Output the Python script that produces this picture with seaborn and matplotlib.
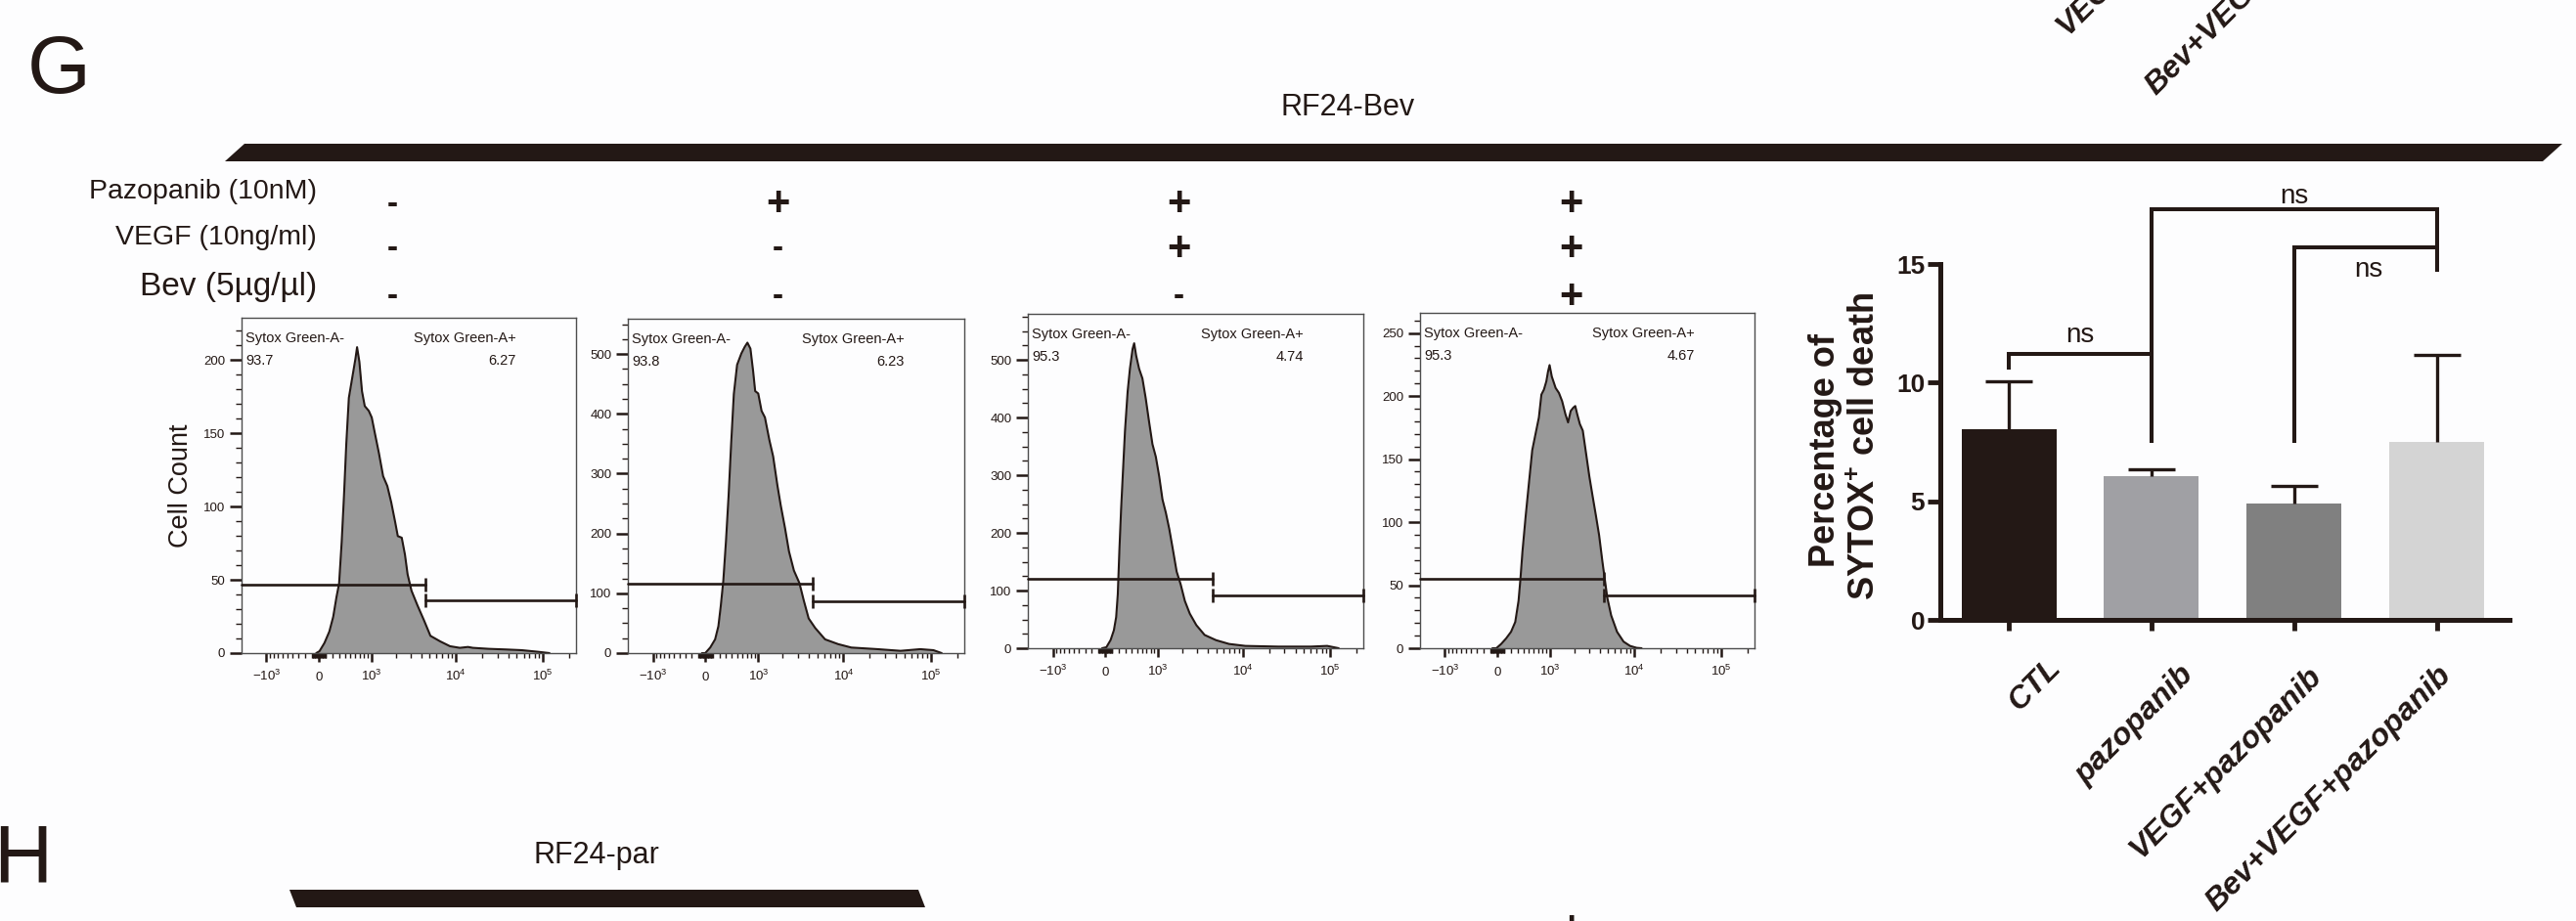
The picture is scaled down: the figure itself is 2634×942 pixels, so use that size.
import numpy as np
import pandas as pd
import matplotlib
matplotlib.use("Agg")
import matplotlib.pyplot as plt
import matplotlib.transforms as mtransforms
from matplotlib import font_manager
from matplotlib.patches import Polygon
import seaborn as sns

# ---------------- data ----------------
treatments = ["Pazopanib (10nM)", "VEGF (10ng/ml)", "Bev (5µg/µl)"]
treat_signs = [["-", "+", "+", "+"],
               ["-", "-", "+", "+"],
               ["-", "-", "-", "+"]]

# Sytox Green-A histograms (fluorescence, cell count)
h1_x = [-37, 9, 79, 150, 208, 258, 300, 343, 382, 423, 470, 534, 602, 637, 689, 751, 820, 930,
        1016, 1118, 1255, 1413, 1589, 1772, 1973, 2121, 2361, 2576, 2765, 3071, 3602, 4279, 5087,
        6597, 8549, 11075, 13750, 15649, 24060, 37022, 57031, 87740, 118500]
h1_y = [0, 1.3, 6.9, 14.7, 24.8, 38.2, 47.5, 76.1, 107.4, 143.1, 174.3, 187.7, 201.1, 208.9, 198.9,
        178.8, 168.7, 165.4, 160.9, 149.8, 136.4, 120.8, 114.1, 102.9, 89.5, 79.9, 78.8, 67.2, 53.8,
        42.6, 32.6, 22.5, 11.8, 8.0, 4.7, 3.6, 4.2, 3.6, 2.9, 2.5, 2.0, 0.9, 0]
h2_x = [-51, -5, 65, 135, 183, 218, 258, 300, 343, 387, 434, 495, 580, 652, 713, 786, 856, 911, 999,
        1102, 1215, 1379, 1531, 1725, 1888, 2121, 2361, 2695, 3124, 3499, 3991, 4745, 6158, 8699,
        12289, 24503, 44780, 75168, 106358, 131931]
h2_y = [0, 0, 9.3, 23, 45, 78, 121, 187, 263, 351, 433, 482, 501, 512, 519, 509, 471, 438, 434, 405,
        394, 356, 329, 280, 247, 209, 170, 138, 117, 88.5, 58, 42, 23, 15, 9.3, 6.6, 3.8, 6.6, 4.9, 0]
h3_x = [-46, 14, 74, 121, 154, 178, 203, 228, 258, 289, 332, 371, 417, 446, 483, 540, 609, 681, 759,
        847, 940, 1040, 1145, 1262, 1390, 1531, 1708, 1906, 2139, 2444, 2916, 3635, 4915, 6950, 10700,
        25359, 60027, 92341, 124922]
h3_y = [0, 1.7, 14.2, 31.2, 53.9, 93.6, 172.9, 241, 309, 377, 445, 485, 519, 529, 507.5, 485, 468,
        434, 394, 354, 332, 298, 258, 235, 207, 173, 133, 111, 82, 60, 40, 23, 14, 7.4, 4, 2.8, 2.8, 4, 0]
h4_x = [-69, -14, 55, 126, 198, 263, 316, 348, 382, 440, 501, 567, 637, 713, 774, 838, 903, 951, 997,
        1065, 1192, 1310, 1434, 1574, 1694, 1822, 1956, 2063, 2177, 2339, 2531, 2765, 3019, 3294, 3602,
        3922, 4279, 4548, 4872, 5406, 6318, 7511, 8929, 10609, 12080]
h4_y = [0, 0, 3.4, 7.8, 13, 20.8, 37.6, 55.3, 76.6, 105.1, 131.1, 157.1, 170, 183, 201.2, 205.1, 211.6,
        219.4, 224.6, 215.5, 206.4, 202.5, 196, 185.6, 179.1, 188.2, 190.8, 192.1, 185.6, 177.8, 172.6,
        154.5, 136.3, 120.7, 105.1, 89.6, 68.8, 55.3, 40.2, 26, 13, 5.2, 1.8, 0.3, 0]
hist_x = [h1_x, h2_x, h3_x, h4_x]
hist_y = [h1_y, h2_y, h3_y, h4_y]

gate_split = 4460
gate_neg_y = [47, 116, 121, 55]
gate_pos_y = [36, 87, 92, 42]
pct_neg = ["93.7", "93.8", "95.3", "95.3"]
pct_pos = ["6.27", "6.23", "4.74", "4.67"]

hist_ymax = [229, 559, 580, 266]
hist_ymajor = [50, 100, 100, 50]
hist_yminor = [10, 25, 25, 10]
x_lo, x_hi = -2027, 239000
x_major = [-1000, 0, 1000, 10000, 100000]
x_major_lab = ["$-10^{3}$", "0", "$10^{3}$", "$10^{4}$", "$10^{5}$"]

groups = ["CTL", "pazopanib", "VEGF+pazopanib", "Bev+VEGF+pazopanib"]
death_mean = [8.02, 6.05, 4.90, 7.51]
death_sd = [2.04, 0.28, 0.74, 3.64]
bar_colors = ["#231815", "#a0a0a4", "#808080", "#d4d4d4"]

# significance brackets
sig_left = [0, 1, 2]
sig_right = [1, 3, 3]
sig_top = [11.23, 17.29, 15.72]
sig_left_end = [10.55, 7.47, 7.47]
sig_right_end = [7.47, 14.66, 15.72]
sig_text = ["ns", "ns", "ns"]
sig_text_x = [0.5, 2.0, 2.52]
sig_text_y = [11.7, 17.56, 14.45]

# ---------------- style ----------------
INK = "#231815"
W, H = 2634, 942
sns.set_style("ticks")
plt.rcParams["font.family"] = ["Liberation Sans", "DejaVu Sans"]
plt.rcParams["mathtext.default"] = "regular"
plt.rcParams["text.color"] = INK
plt.rcParams["axes.labelcolor"] = INK
plt.rcParams["xtick.color"] = INK
plt.rcParams["ytick.color"] = INK

have_narrow = any(f.name == "Liberation Sans Narrow" for f in font_manager.fontManager.ttflist)
narrow = ["Liberation Sans Narrow", "Liberation Sans", "DejaVu Sans"]

fig = plt.figure(figsize=(W / 100, H / 100), dpi=100, facecolor="#fdfdfe")


def fx(px):
    return px / W


def fy(py):
    return 1 - py / H


def box(x0, y0, x1, y1):
    return [fx(x0), fy(y1), (x1 - x0) / W, (y1 - y0) / H]


# panel letters, titles, banners
fig.text(fx(28), fy(95), "G", fontsize=60, va="baseline")
fig.text(fx(-7), fy(903), "H", fontsize=60, va="baseline", family=narrow)
rf_size = 24 if have_narrow else 22
fig.text(fx(1378), fy(118), "RF24-Bev", fontsize=rf_size, ha="center", va="baseline", family=narrow)
fig.text(fx(610), fy(883), "RF24-par", fontsize=rf_size, ha="center", va="baseline", family=narrow)

for pts in ([(230, 165), (250, 147), (2620, 147), (2600, 165)],
            [(296, 910), (939, 910), (946, 928), (303, 928)]):
    fig.add_artist(Polygon([(fx(a), fy(b)) for a, b in pts], closed=True,
                           transform=fig.transFigure, facecolor=INK, edgecolor="none"))

# treatment table
label_base = [203, 250, 302]
label_size = [20.5, 20.5, 24]
col_x = [401, 795, 1205, 1606]
row_y = [209, 255, 304]
for r, name in enumerate(treatments):
    fig.text(fx(324), fy(label_base[r]), name, fontsize=label_size[r], ha="right", va="baseline")
    for c, s in enumerate(treat_signs[r]):
        fig.text(fx(col_x[c]), fy(row_y[r]), s, fontsize=30 if s == "+" else 24,
                 fontweight="bold", ha="center", va="center")
# top of the next panel's "+" cut by the bottom edge
fig.text(fx(1606), fy(950), "+", fontsize=30, fontweight="bold", ha="center", va="center")

# ---------------- flow histograms ----------------
hist_boxes = [(247, 325, 589, 668), (642, 326, 986, 668), (1051, 321, 1394, 663), (1452, 320, 1794, 663)]
x_minor = sorted([-k * 100 for k in range(1, 10)] + [-k * 10 for k in range(1, 10)] +
                 [k * 10 for k in range(1, 10)] + [k * 100 for k in range(1, 10)] +
                 [k * 1000 for k in range(2, 10)] + [k * 10000 for k in range(2, 10)] + [200000])

for i in range(4):
    ax = fig.add_axes(box(*hist_boxes[i]))
    ax.set_facecolor("none")
    ax.set_xscale("asinh", linear_width=535)
    ax.fill_between(hist_x[i], hist_y[i], 0, color="#999999", linewidth=0, zorder=1)
    sns.lineplot(x=hist_x[i], y=hist_y[i], color=INK, linewidth=1.5, ax=ax, zorder=2)

    ax.plot([x_lo, gate_split], [gate_neg_y[i]] * 2, color=INK, lw=1.9, marker="|",
            markevery=[1], ms=9.5, mew=1.9, clip_on=False, zorder=3)
    ax.plot([gate_split, x_hi], [gate_pos_y[i]] * 2, color=INK, lw=1.9, marker="|",
            ms=9.5, mew=1.9, clip_on=False, zorder=3)

    ax.text(0.0126, 0.927, "Sytox Green-A-", transform=ax.transAxes, fontsize=10.5, va="baseline")
    ax.text(0.0126, 0.860, pct_neg[i], transform=ax.transAxes, fontsize=10.5, va="baseline")
    ax.text(0.822, 0.927, "Sytox Green-A+", transform=ax.transAxes, fontsize=10.5,
            ha="right", va="baseline")
    ax.text(0.822, 0.860, pct_pos[i], transform=ax.transAxes, fontsize=10.5,
            ha="right", va="baseline")

    ax.set_xlim(x_lo, x_hi)
    ax.set_ylim(0, hist_ymax[i])
    ax.set_xticks(x_major, x_major_lab, va="baseline", fontsize=9.5)
    ax.set_xticks(x_minor, minor=True)
    ax.set_yticks(np.arange(0, hist_ymax[i], hist_ymajor[i]))
    ax.set_yticks(np.arange(0, hist_ymax[i], hist_yminor[i]), minor=True)
    ax.tick_params(axis="x", which="major", length=6.5, width=1.8, pad=13.7, direction="out")
    ax.tick_params(axis="x", which="minor", length=3.6, width=1.0, direction="out")
    ax.tick_params(axis="y", which="major", length=8.5, width=1.8, pad=3.5, labelsize=9.5,
                   direction="out")
    ax.tick_params(axis="y", which="minor", length=4.3, width=1.0, direction="out")
    for s in ax.spines.values():
        s.set_color("#4d4d4d")
        s.set_linewidth(1.0)
    if i == 0:
        ax.set_ylabel("Cell Count", fontsize=19.5)
        ax.yaxis.set_label_coords(-0.143, 0.5)

# ---------------- bar chart ----------------
axb = fig.add_axes([fx(1984), fy(634), 582 / W, 461 / H])
axb.set_facecolor("none")
df = pd.DataFrame({"group": groups, "death": death_mean})
sns.barplot(data=df, x="group", y="death", hue="group", order=groups, hue_order=groups,
            palette=bar_colors, width=0.665, saturation=1, errorbar=None, legend=False,
            linewidth=0, ax=axb)
_, caps, _ = axb.errorbar(range(len(groups)), death_mean, yerr=[np.zeros(len(groups)), death_sd],
                          fmt="none", ecolor=INK, elinewidth=2.4, capsize=17, capthick=2.4, zorder=3)
for cap in caps:
    if np.allclose(cap.get_ydata(), death_mean):
        cap.remove()   # SD drawn upward only

for a, b, top, le, re_, t, tx, ty in zip(sig_left, sig_right, sig_top, sig_left_end,
                                          sig_right_end, sig_text, sig_text_x, sig_text_y):
    axb.plot([a, a, b, b], [le, top, top, re_], color=INK, lw=2.9,
             solid_joinstyle="miter", solid_capstyle="butt", clip_on=False, zorder=4)
    axb.text(tx, ty, t, fontsize=20, ha="center", va="baseline")

axb.set_xlim(-0.48, 3.51)
axb.set_ylim(0, 19)
axb.set_xlabel("")
axb.set_ylabel("")
axb.spines[["top", "right"]].set_visible(False)
axb.spines["left"].set_bounds(0, 15)
for s in ("left", "bottom"):
    axb.spines[s].set_linewidth(3.6)
    axb.spines[s].set_color(INK)
axb.set_yticks([0, 5, 10, 15], ["0", "5", "10", "15"], fontsize=19, fontweight="bold")
axb.tick_params(axis="y", length=9.4, width=3.5, pad=2, direction="out")
axb.set_xticks(range(len(groups)), groups, rotation=45, ha="right", va="baseline",
               rotation_mode="anchor", fontsize=23, fontweight="bold", fontstyle="italic")
axb.tick_params(axis="x", length=8, width=3.5, pad=33.8, direction="out")
label_shift = [(54, 8), (45, 1), (29, 0), (16, 0)]
for lbl, (dx, dy) in zip(axb.get_xticklabels(), label_shift):
    lbl.set_transform(lbl.get_transform() +
                      mtransforms.ScaledTranslation(dx / 100, dy / 100, fig.dpi_scale_trans))

fig.text(fx(1876), fy(460), "Percentage of", fontsize=26, fontweight="bold", rotation=90,
         rotation_mode="anchor", ha="center", va="baseline")
fig.text(fx(1917), fy(456), "SYTOX$^{+}$ cell death", fontsize=26, fontweight="bold", rotation=90,
         rotation_mode="anchor", ha="center", va="baseline")

# x labels of the panel above, cut by the top edge
for txt, ex, ey in (("VEGF+pazopanib", 2300, -149), ("Bev+VEGF+pazopanib", 2446, -143)):
    fig.text(fx(ex), fy(ey), txt, fontsize=23, fontweight="bold", fontstyle="italic",
             rotation=45, rotation_mode="anchor", ha="right", va="baseline")

fig.savefig("out.png", dpi=100, facecolor=fig.get_facecolor())
